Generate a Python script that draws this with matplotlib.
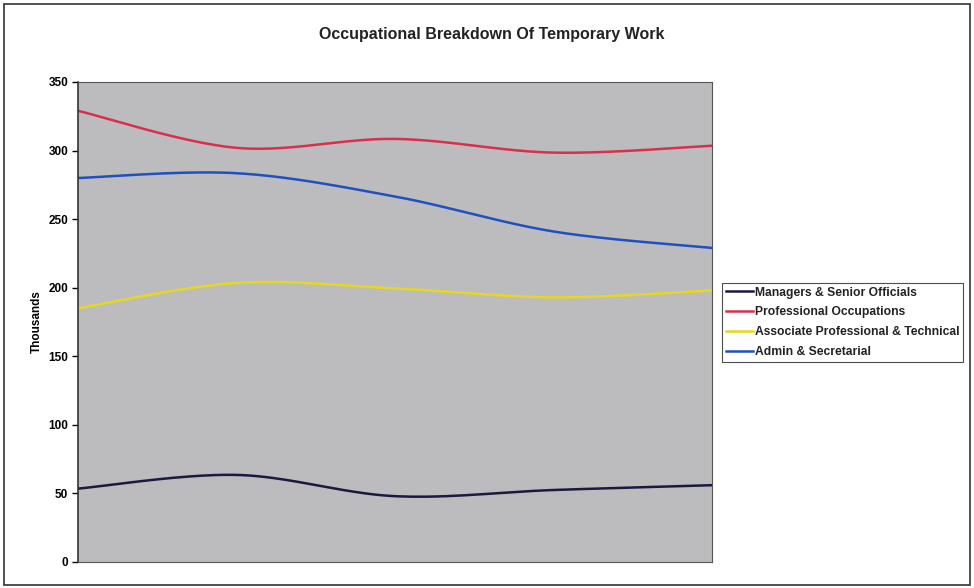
import numpy as np
import matplotlib.pyplot as plt
from matplotlib.patches import Rectangle

plt.rcParams['font.family'] = ['Liberation Sans', 'DejaVu Sans']

periods = [0, 1, 2, 3, 4]
managers = [53.5, 63.5, 48, 52.5, 56]
professional = [329, 302, 308.5, 298.5, 303.5]
associate = [185, 203.5, 199.5, 193, 198]
admin = [280, 283.5, 266.5, 241, 229]

series = [
    ("Managers & Senior Officials", managers, "#1a1a40"),
    ("Professional Occupations", professional, "#d8304a"),
    ("Associate Professional & Technical", associate, "#e6d81e"),
    ("Admin & Secretarial", admin, "#2050c0"),
]


def smooth(x, y, n=40):
    # Catmull-Rom style smoothing, like excel's smoothed lines
    x = np.asarray(x, float)
    y = np.asarray(y, float)
    px = np.concatenate([[x[0]], x, [x[-1]]])
    py = np.concatenate([[y[0]], y, [y[-1]]])
    xs, ys = [], []
    for i in range(1, len(px) - 2):
        p0, p1, p2, p3 = (np.array([px[j], py[j]]) for j in range(i - 1, i + 3))
        c1 = p1 + (p2 - p0) / 6
        c2 = p2 - (p3 - p1) / 6
        t = np.linspace(0, 1, n)[:, None]
        b = (1 - t) ** 3 * p1 + 3 * (1 - t) ** 2 * t * c1 + 3 * (1 - t) * t ** 2 * c2 + t ** 3 * p2
        xs.append(b[:, 0])
        ys.append(b[:, 1])
    return np.concatenate(xs), np.concatenate(ys)


fig = plt.figure(figsize=(9.74, 5.88), dpi=100)
ax = fig.add_axes([78 / 974, 26 / 588, 634 / 974, 480 / 588])
ax.set_facecolor("#bcbcbe")

for name, vals, col in series:
    sx, sy = smooth(periods, vals)
    ax.plot(sx, sy, color=col, lw=1.8, label=name)

ax.set_xlim(0, 4)
ax.set_ylim(0, 350)
ax.set_yticks(range(0, 351, 50))
ax.set_xticks([])
for lbl in ax.get_yticklabels():
    lbl.set_fontweight("bold")
    lbl.set_fontsize(8.5)
ax.tick_params(axis="y", direction="out", length=4, width=1, pad=3)
for s in ax.spines.values():
    s.set_color("#555555")
    s.set_linewidth(0.8)
ax.spines["left"].set_color("#333333")
ax.spines["left"].set_linewidth(1.2)

ax.set_ylabel("Thousands", fontsize=8.5, fontweight="bold", labelpad=4)
fig.text(492 / 974, 1 - 34 / 588, "Occupational Breakdown Of Temporary Work",
         ha="center", va="center", fontsize=11.5, fontweight="bold", color="#222222")

leg = fig.legend(loc="upper left", bbox_to_anchor=(722 / 974, 1 - 283 / 588),
                 prop={"size": 8.7, "weight": "bold"}, frameon=True, fancybox=False,
                 handlelength=2.3, handletextpad=0.1, borderpad=0.3, labelspacing=0.65,
                 borderaxespad=0)
leg.get_frame().set_edgecolor("#222222")
leg.get_frame().set_linewidth(0.8)
for t in leg.get_texts():
    t.set_color("#222222")

fig.patches.append(Rectangle((4 / 974, 3 / 588), 966 / 974, 581 / 588, transform=fig.transFigure,
                             fill=False, edgecolor="#333333", lw=1.2))

fig.savefig("out.png", dpi=100)
